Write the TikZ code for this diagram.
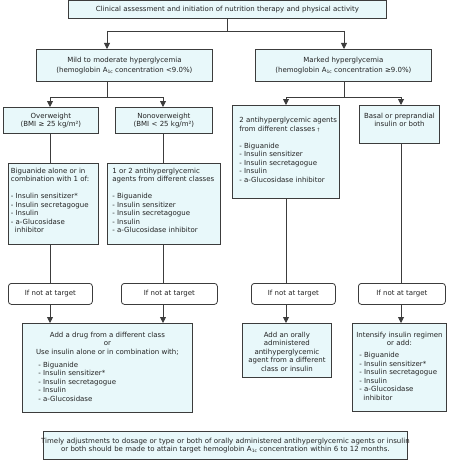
\documentclass[tikz,border=0pt]{standalone}
\usepackage{fontspec}
\setmainfont{DejaVu Sans}
\usetikzlibrary{arrows.meta}
\definecolor{boxfill}{RGB}{232,248,250}
\definecolor{edge}{RGB}{60,60,60}
\definecolor{ink}{RGB}{35,35,35}
\newcommand\Aic{A\raisebox{-1.3pt}{\fontsize{4.5}{4.5}\selectfont 1c}}
\newcommand\tb[4]{\parbox[c][#2pt][t]{#1pt}{\vspace*{\dimexpr#3pt-3.4pt\relax}#4}}
\begin{document}
\begin{tikzpicture}[x=1pt,y=-1pt,font=\fontsize{7}{8.5}\selectfont,text=ink,
  cbox/.style={draw=edge,fill=boxfill,line width=0.8pt,inner sep=0pt,anchor=north west,align=center},
  tgt/.style={draw=edge,fill=white,rounded corners=3pt,line width=0.8pt,inner sep=0pt,anchor=north west,align=center},
  conn/.style={draw=edge,line width=0.9pt},
  arr/.style={conn,-{Triangle[width=6pt,length=6pt]}}]
\useasboundingbox (0,0) rectangle (450,460);

% level 0
\node[cbox,minimum width=318pt,minimum height=18pt,text width=318pt] (top) at (68,0.5)
  {Clinical assessment and initiation of nutrition therapy and physical activity};
% level 1
\node[cbox,minimum width=176pt,minimum height=32pt,text width=176pt] (mild) at (36,49)
  {Mild to moderate hyperglycemia\\[1.5pt](hemoglobin \Aic{} concentration <9.0\%)};
\node[cbox,minimum width=176pt,minimum height=32pt,text width=176pt] (marked) at (255,49)
  {Marked hyperglycemia\\[1.5pt](hemoglobin \Aic{} concentration ≥9.0\%)};
% level 2
\node[cbox,minimum width=95pt,minimum height=26pt,text width=95pt] (over) at (3,107)
  {Overweight\\(BMI ≥ 25 kg/m²)};
\node[cbox,minimum width=97pt,minimum height=26pt,text width=97pt] (nonover) at (115,107)
  {Nonoverweight\\(BMI < 25 kg/m²)};
\node[cbox] (anti2) at (232,105) {\tb{107}{93}{15.5}{\raggedright\leftskip=7pt
  2 antihyperglycemic agents\\from different classes {\fontsize{4.5}{4.5}\selectfont †}\\[8.5pt]
  - Biguanide\\- Insulin sensitizer\\- Insulin secretagogue\\- Insulin\\- a-Glucosidase inhibitor\par}};
\node[cbox] (basal) at (359,105) {\tb{80}{38}{11}{\centering
  Basal or preprandial\\insulin or both\par}};
% level 3
\node[cbox] (bigu) at (8,163) {\tb{90}{81}{8}{\raggedright\leftskip=2.5pt
  Biguanide alone or in\\combination with 1 of:\\[8.5pt]
  - Insulin sensitizer*\\- Insulin secretagogue\\- Insulin\\- a-Glucosidase\\\hspace*{4pt}inhibitor\par}};
\node[cbox] (one2) at (107,163) {\tb{113}{81}{8}{\raggedright\leftskip=5pt
  1 or 2 antihyperglycemic\\agents from different classes\\[8.5pt]
  - Biguanide\\- Insulin sensitizer\\- Insulin secretagogue\\- Insulin\\- a-Glucosidase inhibitor\par}};
% if not at target
\node[tgt,minimum width=84pt,minimum height=21pt] (if1) at (8,283) {If not at target};
\node[tgt,minimum width=96pt,minimum height=21pt] (if2) at (121,283) {If not at target};
\node[tgt,minimum width=84pt,minimum height=21pt] (if3) at (251,283) {If not at target};
\node[tgt,minimum width=87pt,minimum height=21pt] (if4) at (358,283) {If not at target};
% bottom boxes
\node[cbox] (addl) at (22,323) {\tb{170}{89}{12}{{\centering
  Add a drug from a different class\\or\\Use insulin alone or in combination with;\par}
  \vspace{4.5pt}{\raggedright\leftskip=16pt
  - Biguanide\\- Insulin sensitizer*\\- Insulin secretagogue\\- Insulin\\- a-Glucosidase\par}}};
\node[cbox] (orally) at (242,323) {\tb{89}{54}{12}{\centering
  Add an orally\\administered\\antihyperglycemic\\agent from a different\\class or insulin\par}};
\node[cbox] (intens) at (352,323) {\tb{94}{88}{12}{{\centering
  Intensify insulin regimen\\or add:\par}
  \vspace{3.5pt}{\raggedright\leftskip=7pt
  - Biguanide\\- Insulin sensitizer*\\- Insulin secretagogue\\- Insulin\\- a-Glucosidase\\\hspace*{4pt}inhibitor\par}}};
\node[cbox,minimum width=364pt,minimum height=28pt,text width=364pt] (timely) at (43,431)
  {\makebox[364pt][c]{Timely adjustments to dosage or type or both of orally administered antihyperglycemic agents or insulin}\\
   \makebox[364pt][c]{or both should be made to attain target hemoglobin \Aic{} concentration within 6 to 12 months.}};

% junctions
\coordinate (jl) at (107,31);
\coordinate (jr) at (344,31);
\coordinate (ml) at (50,97);
\coordinate (mr) at (163,97);
\coordinate (kl) at (286,97);
\coordinate (kr) at (401,97);

\draw[conn] (top.south) -- (top.south |- jl);
\draw[conn] (jl) -- (jr);
\draw[arr] (jl) -- (jl |- mild.north);
\draw[arr] (jr) -- (jr |- marked.north);

\draw[conn] (mild.south -| jl) -- (jl |- ml);
\draw[conn] (ml) -- (mr);
\draw[arr] (ml) -- (ml |- over.north);
\draw[arr] (mr) -- (mr |- nonover.north);

\draw[conn] (marked.south -| jr) -- (jr |- kl);
\draw[conn] (kl) -- (kr);
\draw[arr] (kl) -- (kl |- anti2.north);
\draw[arr] (kr) -- (kr |- basal.north);

\draw[conn] (ml |- over.south) -- (ml |- bigu.north);
\draw[conn] (mr |- nonover.south) -- (mr |- one2.north);
\draw[conn] (ml |- bigu.south) -- (ml |- if1.north);
\draw[conn] (mr |- one2.south) -- (mr |- if2.north);
\draw[conn] (kl |- anti2.south) -- (kl |- if3.north);
\draw[conn] (kr |- basal.south) -- (kr |- if4.north);

\draw[arr] (ml |- if1.south) -- (ml |- addl.north);
\draw[arr] (mr |- if2.south) -- (mr |- addl.north);
\draw[arr] (kl |- if3.south) -- (kl |- orally.north);
\draw[arr] (kr |- if4.south) -- (kr |- intens.north);
\end{tikzpicture}
\end{document}
